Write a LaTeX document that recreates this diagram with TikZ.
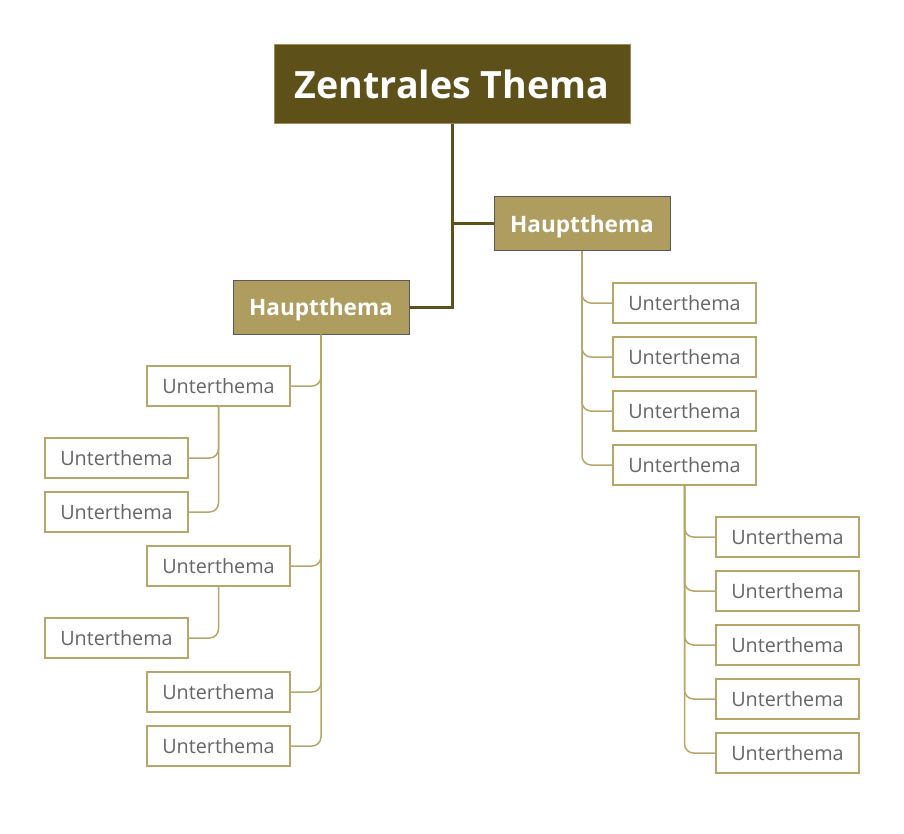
\documentclass[tikz,border=0pt]{standalone}
\usepackage{fontspec}
\setmainfont{Open Sans}
\definecolor{dark}{HTML}{5E5019}
\definecolor{mid}{HTML}{AE9D5E}
\definecolor{lite}{HTML}{B7A66A}
\definecolor{txt}{HTML}{666666}
\begin{document}
\begin{tikzpicture}[x=1pt,y=-1pt,
  zent/.style={draw=lite!70!dark,line width=1pt,fill=dark,text=white,font=\fontsize{37.6}{40}\selectfont\bfseries,minimum width=356pt,minimum height=79pt,inner sep=0pt},
  haupt/.style={draw=black!65,line width=1pt,fill=mid,text=white,font=\fontsize{22.6}{26}\selectfont\bfseries,minimum width=176pt,minimum height=54pt,inner sep=0pt,text depth=1pt},
  unter/.style={draw=lite,line width=1.2pt,fill=white,text=txt,font=\fontsize{19.8}{22}\selectfont,minimum width=143pt,minimum height=40pt,inner sep=0pt},
  mainline/.style={draw=dark,line width=3pt},
  subline/.style={draw=lite,line width=1.5pt,rounded corners=9pt}]
\useasboundingbox (0,0) rectangle (904,834);
\node[zent] (Z) at (452,84.5) {Zentrales Thema};
\node[haupt] (R) at (582,224) {Hauptthema};
\node[haupt] (L) at (321,307) {Hauptthema};
\draw[mainline] (Z.south) |- (L.east);
\draw[mainline] (Z.south |- R.west) -- (R.west);
% right subtopics
\node[unter] (r1) at (684.5,303) {Unterthema};
\node[unter] (r2) at (684.5,357) {Unterthema};
\node[unter] (r3) at (684.5,411) {Unterthema};
\node[unter] (r4) at (684.5,465) {Unterthema};
\foreach \n in {r1,r2,r3,r4} \draw[subline] (R.south) |- (\n.west);
\node[unter] (s1) at (787.5,537) {Unterthema};
\node[unter] (s2) at (787.5,591) {Unterthema};
\node[unter] (s3) at (787.5,645) {Unterthema};
\node[unter] (s4) at (787.5,699) {Unterthema};
\node[unter] (s5) at (787.5,753) {Unterthema};
\foreach \n in {s1,s2,s3,s4,s5} \draw[subline] (r4.south) |- (\n.west);
% left subtopics
\node[unter] (l1) at (218.5,386) {Unterthema};
\node[unter] (l2) at (218.5,566) {Unterthema};
\node[unter] (l3) at (218.5,692) {Unterthema};
\node[unter] (l4) at (218.5,746) {Unterthema};
\foreach \n in {l1,l2,l3,l4} \draw[subline] (L.south) |- (\n.east);
\node[unter] (m1) at (116.5,458) {Unterthema};
\node[unter] (m2) at (116.5,512) {Unterthema};
\foreach \n in {m1,m2} \draw[subline] (l1.south) |- (\n.east);
\node[unter] (n1) at (116.5,638) {Unterthema};
\draw[subline] (l2.south) |- (n1.east);
\end{tikzpicture}
\end{document}
